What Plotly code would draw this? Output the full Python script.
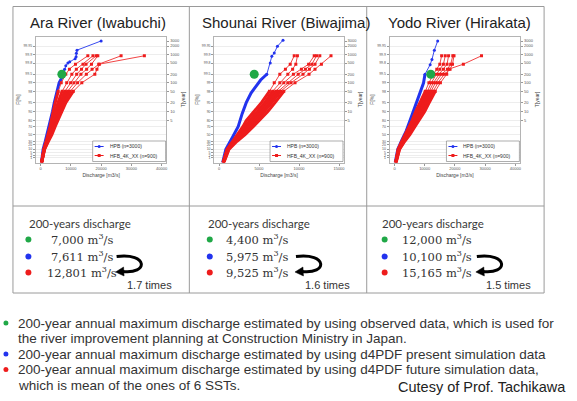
import numpy as np
import plotly.graph_objects as go

W, H = 577, 401

# ---------------- data ----------------
river_names = ["Ara River (Iwabuchi)", "Shounai River (Biwajima)", "Yodo River (Hirakata)"]

# 200-year annual maximum discharge [m3/s]
q200_observed = [7000, 4400, 12000]
q200_present = [7611, 5975, 10100]
q200_future = [12801, 9525, 15165]

# HPB (present climate, n=3000): non-exceedance probability [%] / discharge [m3/s]
hpb_ara_F = [0.1, 10, 30, 50, 70, 80, 90, 95, 98, 99, 99.5, 99.67, 99.75, 99.8, 99.82, 99.86, 99.88, 99.91, 99.93, 99.967]
hpb_ara_Q = [250, 800, 1500, 2100, 2700, 3200, 3900, 4500, 5300, 6100, 7611, 7900, 8300, 9000, 9600, 11400, 11700, 11800, 12000, 20000]
hpb_sho_F = [0.1, 10, 43, 70, 88.4, 95, 97.7, 99.2, 99.5, 99.8, 99.884, 99.912, 99.949, 99.969]
hpb_sho_Q = [450, 850, 1700, 2400, 2900, 3400, 4000, 5200, 5975, 6400, 6600, 6900, 7300, 8000]
hpb_yodo_F = [0.1, 10, 33, 60, 80.8, 90, 95.4, 98.97, 99.5, 99.77, 99.85, 99.93, 99.967]
hpb_yodo_Q = [250, 1100, 2400, 3900, 5200, 6200, 7400, 9600, 10100, 11800, 12400, 13200, 14300]

# HFB_4K_XX (+4K future climate, 6 SST patterns, n=900 each)
hfb_F = [0.1, 10, 30, 50, 70, 80, 90, 95, 98, 99, 99.5, 99.67, 99.78, 99.889]
hfb_ara_CC = [300, 1000, 1800, 2500, 3100, 3500, 4100, 4800, 5800, 6800, 8300, 9500, 11500, 15600]
hfb_ara_GF = [300, 1100, 2000, 2800, 3500, 4000, 4800, 5700, 7100, 8600, 10300, 11800, 14000, 17300]
hfb_ara_HA = [300, 1150, 2100, 3000, 3800, 4400, 5300, 6400, 8000, 9900, 11900, 13500, 15000, 18400]
hfb_ara_MI = [300, 1200, 2250, 3200, 4100, 4800, 5800, 7000, 8900, 11000, 13300, 15200, 16800, 18900]
hfb_ara_MP = [300, 1250, 2400, 3400, 4400, 5200, 6300, 7600, 9800, 12200, 15100, 17000, 19200, 26600]
hfb_ara_MR = [300, 1300, 2550, 3700, 4800, 5700, 6900, 8300, 10800, 13600, 17906, 18600, 19400, 34300]
hfb_sho_CC = [500, 1000, 1700, 2300, 3000, 3400, 4400, 5300, 6300, 6900, 7600, 8300, 8900, 9400]
hfb_sho_GF = [500, 1050, 1800, 2500, 3300, 3800, 4800, 5700, 6700, 7600, 8600, 9200, 9600, 9800]
hfb_sho_HA = [500, 1100, 1900, 2700, 3500, 4100, 5100, 6000, 7100, 8100, 9300, 10300, 11200, 11900]
hfb_sho_MI = [550, 1150, 2000, 2850, 3750, 4400, 5400, 6300, 7400, 8600, 9900, 10800, 11600, 12200]
hfb_sho_MP = [550, 1200, 2100, 3000, 4000, 4700, 5700, 6600, 7700, 9000, 10500, 11300, 12000, 12600]
hfb_sho_MR = [600, 1250, 2250, 3250, 4300, 5000, 6100, 7000, 8100, 9500, 11250, 12000, 12800, 14000]
hfb_yodo_CC = [400, 1200, 2400, 3600, 4900, 5800, 7000, 8500, 10200, 11400, 12900, 14000, 15000, 15600]
hfb_yodo_GF = [400, 1300, 2600, 3900, 5300, 6300, 7600, 9100, 10900, 12200, 13900, 15000, 16200, 16800]
hfb_yodo_HA = [400, 1400, 2800, 4200, 5700, 6700, 8200, 9700, 11500, 12900, 14800, 16200, 17400, 17900]
hfb_yodo_MI = [400, 1500, 3000, 4500, 6000, 7100, 8800, 10300, 12100, 13600, 15600, 17500, 18600, 19300]
hfb_yodo_MP = [500, 1600, 3200, 4800, 6400, 7500, 9400, 10900, 12800, 14400, 16500, 18400, 19200, 19700]
hfb_yodo_MR = [500, 1700, 3400, 5100, 6800, 8000, 10000, 11500, 13500, 15200, 17290, 18000, 22800, 28800]

# axis ticks
F_ticks = [1, 2, 5, 10, 20, 30, 50, 70, 80, 90, 95, 98, 99, 99.5, 99.8, 99.9, 99.95]
F_tick_text = ["1", "2", "5", "10", "20", "30", "50", "70", "80", "90", "95", "98", "99", "99.5", "99.8", "99.9", "99.95"]
T_ticks = [5, 10, 20, 50, 100, 200, 500, 1000, 2000, 3000]

footnotes = [
    "200-year annual maximum discharge estimated by using observed data, which is used for",
    "the river improvement planning at Construction Ministry in Japan.",
    "200-year annual maximum discharge estimated by using d4PDF present simulation data",
    "200-year annual maximum discharge estimated by using d4PDF future simulation data,",
    "which is mean of the ones of 6 SSTs.",
]
credit = "Cutesy of Prof. Tachikawa"

hpb = [(hpb_ara_F, hpb_ara_Q), (hpb_sho_F, hpb_sho_Q), (hpb_yodo_F, hpb_yodo_Q)]
hfb = [
    [hfb_ara_CC, hfb_ara_GF, hfb_ara_HA, hfb_ara_MI, hfb_ara_MP, hfb_ara_MR],
    [hfb_sho_CC, hfb_sho_GF, hfb_sho_HA, hfb_sho_MI, hfb_sho_MP, hfb_sho_MR],
    [hfb_yodo_CC, hfb_yodo_GF, hfb_yodo_HA, hfb_yodo_MI, hfb_yodo_MP, hfb_yodo_MR],
]

# ---------------- helpers ----------------
GREEN, BLUE, RED = "#20a847", "#2233ee", "#ee1c1c"
FRAME_C = "#b4b4b4"
TABLE_C = "#9a9a9a"


def gum(F_pct):
    """Gumbel reduced variate of a non-exceedance probability in percent."""
    p = np.asarray(F_pct, dtype=float) / 100.0
    return -np.log(-np.log(p))


def T_to_F(T):
    return 100.0 * (1.0 - 1.0 / np.asarray(T, dtype=float))


def px(x):
    return x / W


def py(y):
    return 1 - y / H


Y_RANGE = [-1.92, 8.38]
frames = [(36, 167), (215, 345), (391, 522)]
title_x = [98, 287, 461]
FRAME_TOP, FRAME_BOT = 36.5, 162.5
x_ranges = [[-1600, 41600], [-600, 15600], [-1600, 41600]]
x_dticks = [10000, 5000, 10000]

fig = go.Figure()
shapes, annotations = [], []
layout = {}

for i in range(3):
    s = "" if i == 0 else str(i + 1)
    xa, ya, yt = "x" + s, "y" + s, "y" + str(i + 4)
    F, Q = hpb[i]
    cut = F.index(99.5)
    # present climate: dense lower part as a thick line, sparse upper tail with markers
    fig.add_trace(go.Scatter(x=Q[:cut + 1], y=gum(F[:cut + 1]), mode="lines", xaxis=xa, yaxis=ya,
                             line=dict(color=BLUE, width=3), showlegend=False))
    fig.add_trace(go.Scatter(x=Q[cut:], y=gum(F[cut:]), mode="lines+markers", xaxis=xa, yaxis=ya,
                             line=dict(color="#3a4cf0", width=1), marker=dict(size=3, color=BLUE),
                             showlegend=False))
    # future climate, 6 SSTs
    rcut = hfb_F.index(98)
    for series in hfb[i]:
        fig.add_trace(go.Scatter(x=series[:rcut + 1], y=gum(hfb_F[:rcut + 1]), mode="lines",
                                 xaxis=xa, yaxis=ya, line=dict(color=RED, width=3),
                                 showlegend=False))
        fig.add_trace(go.Scatter(x=series[rcut:], y=gum(hfb_F[rcut:]), mode="lines+markers",
                                 xaxis=xa, yaxis=ya, line=dict(color="#f24444", width=1),
                                 marker=dict(size=3, symbol="square", color=RED),
                                 showlegend=False))
    # observed 200-year discharge on the return-period axis
    fig.add_trace(go.Scatter(x=[q200_observed[i]], y=gum(T_to_F([200])), mode="markers",
                             xaxis=xa, yaxis=yt, marker=dict(size=9, color=GREEN),
                             showlegend=False))

    x0, x1 = frames[i]
    tickfont = dict(size=4, color="#555", family="Liberation Sans")
    layout["xaxis" + s] = dict(
        domain=[px(x0), px(x1)], range=x_ranges[i], anchor=ya, showline=True, mirror=True,
        linecolor=FRAME_C, linewidth=1, ticks="outside", ticklen=2, tickcolor="#999",
        tick0=0, dtick=x_dticks[i], tickformat="d", tickfont=tickfont,
        showgrid=False, zeroline=False,
        title=dict(text="Discharge [m3/s]", font=dict(size=5, color="#444"), standoff=3))
    layout["yaxis" + s] = dict(
        domain=[py(FRAME_BOT), py(FRAME_TOP)], range=Y_RANGE, anchor=xa, showline=True,
        mirror=True, linecolor=FRAME_C, linewidth=1, ticks="outside", ticklen=2,
        tickcolor="#999", tickmode="array", tickvals=gum(F_ticks), ticktext=F_tick_text,
        tickfont=dict(size=3.5, color="#555", family="Liberation Sans"),
        showgrid=True, gridcolor="#ededed", gridwidth=0.6, zeroline=False,
        title=dict(text="F[%]", font=dict(size=5, color="#444"), standoff=2))
    layout["yaxis" + str(i + 4)] = dict(
        overlaying=ya, anchor=xa, side="right", range=Y_RANGE, tickmode="array",
        tickvals=gum(T_to_F(T_ticks)), ticktext=[str(t) for t in T_ticks], tickfont=tickfont,
        ticks="outside", ticklen=2, tickcolor="#999", showgrid=False, showline=False,
        zeroline=False, title=dict(text="T[year]", font=dict(size=5, color="#444"), standoff=2))

    # chart title
    annotations.append(dict(text=river_names[i], x=px(title_x[i]), y=py(23),
                            xref="paper", yref="paper", xanchor="center", yanchor="middle",
                            showarrow=False,
                            font=dict(size=15, color="#222", family="Liberation Sans")))

    # legend box
    bx0, bx1, by0, by1 = x1 - 74, x1 - 0.8, 141, 161.5
    shapes.append(dict(type="rect", xref="paper", yref="paper", x0=px(bx0), x1=px(bx1),
                       y0=py(by1), y1=py(by0), line=dict(color="#777", width=0.6),
                       fillcolor="white"))
    for k, (col, sym, lab) in enumerate([(BLUE, "circle", "HPB (n=3000)"),
                                         (RED, "rect", "HFB_4K_XX (n=900)")]):
        yy = 146.5 + 9 * k
        shapes.append(dict(type="line", xref="paper", yref="paper", x0=px(bx0 + 2),
                           x1=px(bx0 + 11), y0=py(yy), y1=py(yy), line=dict(color=col, width=1)))
        shapes.append(dict(type=sym, xref="paper", yref="paper", x0=px(bx0 + 5),
                           x1=px(bx0 + 8), y0=py(yy + 1.5), y1=py(yy - 1.5),
                           line=dict(width=0), fillcolor=col))
        annotations.append(dict(text=lab, x=px(bx0 + 15), y=py(yy), xref="paper", yref="paper",
                                xanchor="left", yanchor="middle", showarrow=False,
                                font=dict(size=5, color="#333", family="Liberation Sans")))

# ---------------- table frame ----------------
TX0, TX1, TY0, TY1, TMID = 13, 546, 6.5, 293, 206
shapes.append(dict(type="rect", xref="paper", yref="paper", x0=px(TX0), x1=px(TX1),
                   y0=py(TY1), y1=py(TY0), line=dict(color=TABLE_C, width=1)))
for xv in (190, 368):
    shapes.append(dict(type="line", xref="paper", yref="paper", x0=px(xv), x1=px(xv),
                       y0=py(TY1), y1=py(TY0), line=dict(color=TABLE_C, width=1)))
shapes.append(dict(type="line", xref="paper", yref="paper", x0=px(TX0), x1=px(TX1),
                   y0=py(TMID), y1=py(TMID), line=dict(color=TABLE_C, width=1)))

# ---------------- summary cells ----------------
head_x = [27, 206.5, 381.5]
dot_x = [28.5, 210.5, 386]
val_x = [[49, 49, 45], [225, 225, 225], [401, 401, 401]]
arrow_x = [117, 297, 478.5]
times_x = [175, 353, 535]
row_y = [239.5, 256.5, 272.5]
dot_cols = [GREEN, BLUE, RED]

for i in range(3):
    annotations.append(dict(text="200-years discharge", x=px(head_x[i]), y=py(223),
                            xref="paper", yref="paper", xanchor="left", yanchor="middle",
                            showarrow=False, font=dict(size=11.5, color="#3a3a3a", family="Lato")))
    vals = [q200_observed[i], q200_present[i], q200_future[i]]
    for r in range(3):
        shapes.append(dict(type="circle", xref="paper", yref="paper",
                           x0=px(dot_x[i] - 3), x1=px(dot_x[i] + 3),
                           y0=py(row_y[r] + 3), y1=py(row_y[r] - 3),
                           line=dict(width=0), fillcolor=dot_cols[r]))
        annotations.append(dict(text=f"{vals[r]:,} m<sup>3</sup>/s", x=px(val_x[i][r]),
                                y=py(row_y[r]), xref="paper", yref="paper", xanchor="left",
                                yanchor="middle", showarrow=False,
                                font=dict(size=11.5, color="#333", family="DejaVu Serif")))
    # curved arrow from present to future value
    a0 = arrow_x[i]
    yt_, yb_ = 256.5, 271.5
    path = (f"M {px(a0)},{py(yt_)} C {px(a0 + 32)},{py(yt_ - 4)} "
            f"{px(a0 + 32)},{py(yb_ + 3)} {px(a0 + 6)},{py(yb_)}")
    shapes.append(dict(type="path", xref="paper", yref="paper", path=path,
                       line=dict(color="black", width=3)))
    head = (f"M {px(a0 - 1)},{py(yb_ + 0.5)} L {px(a0 + 7)},{py(yb_ - 4.5)} "
            f"L {px(a0 + 7.5)},{py(yb_ + 4.5)} Z")
    shapes.append(dict(type="path", xref="paper", yref="paper", path=head,
                       line=dict(color="black", width=0.5), fillcolor="black"))
    ratio = q200_future[i] / q200_present[i]
    annotations.append(dict(text=f"{ratio:.1f} times", x=px(times_x[i]), y=py(284.5),
                            xref="paper", yref="paper", xanchor="right", yanchor="middle",
                            showarrow=False,
                            font=dict(size=11, color="#333", family="Liberation Sans Narrow, Liberation Sans")))

# ---------------- footnotes ----------------
foot_y = [323, 338.5, 354, 369.5, 385]
bullet_cols = {0: GREEN, 2: BLUE, 3: RED}
for k, line in enumerate(footnotes):
    annotations.append(dict(text=line, x=px(16.5), y=py(foot_y[k]), xref="paper", yref="paper",
                            xanchor="left", yanchor="middle", showarrow=False,
                            font=dict(size=13.5, color="#333", family="Liberation Sans")))
    if k in bullet_cols:
        shapes.append(dict(type="circle", xref="paper", yref="paper", x0=px(3.5), x1=px(8.5),
                           y0=py(foot_y[k] + 2.5), y1=py(foot_y[k] - 2.5),
                           line=dict(width=0), fillcolor=bullet_cols[k]))
annotations.append(dict(text=credit, x=px(570), y=py(387), xref="paper", yref="paper",
                        xanchor="right", yanchor="middle", showarrow=False,
                        font=dict(size=14.5, color="#222", family="Liberation Sans")))

fig.update_layout(
    width=W, height=H, margin=dict(l=0, r=0, t=0, b=0),
    paper_bgcolor="white", plot_bgcolor="white", showlegend=False,
    font=dict(family="Liberation Sans"),
    shapes=shapes, annotations=annotations, **layout,
)

fig.write_html("out.html")
